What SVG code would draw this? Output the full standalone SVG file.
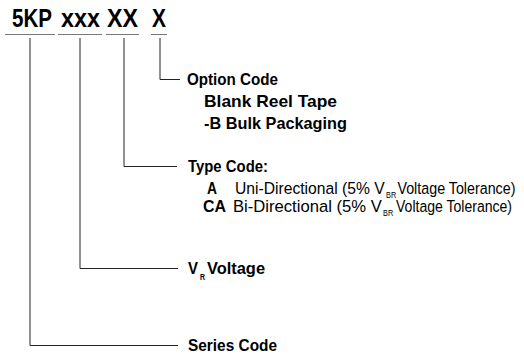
<svg xmlns="http://www.w3.org/2000/svg" width="524" height="356" viewBox="0 0 524 356">
<style>
.t{font-family:"Liberation Sans",Arial,sans-serif;font-weight:bold;fill:#000}
.n{font-weight:normal}
.h{font-size:25px}
.l{font-size:17px}
.s{font-size:9px}
.ul{stroke:#777;stroke-width:1.2;fill:none}
.c{stroke:#222;stroke-width:1;fill:none}
</style>
<rect width="524" height="356" fill="#fff"/>
<g id="title">
<text class="t h" x="12" y="27" textLength="40" lengthAdjust="spacingAndGlyphs">5KP</text>
<text class="t h" x="61" y="27" textLength="39" lengthAdjust="spacingAndGlyphs">xxx</text>
<text class="t h" x="107" y="27" textLength="31" lengthAdjust="spacingAndGlyphs">XX</text>
<text class="t h" x="152" y="27" textLength="14" lengthAdjust="spacingAndGlyphs">X</text>
<path class="ul" d="M5 34.5H55M58 34.5H102M106 34.5H139M151 34.5H167"/>
</g>
<g id="connectors">
<path class="c" d="M160 38V79.5H180"/>
<path class="c" d="M124 38V166.5H177"/>
<path class="c" d="M80 38V268.5H178"/>
<path class="c" d="M30 38V345.5H178"/>
</g>
<g id="option-code">
<text class="t l" x="187" y="85" textLength="91" lengthAdjust="spacingAndGlyphs">Option Code</text>
<text class="t l" x="204" y="107" textLength="133" lengthAdjust="spacingAndGlyphs">Blank Reel Tape</text>
<text class="t l" x="204" y="129" textLength="143" lengthAdjust="spacingAndGlyphs">-B Bulk Packaging</text>
</g>
<g id="type-code">
<text class="t l" x="188" y="172" textLength="80" lengthAdjust="spacingAndGlyphs">Type Code:</text>
<text class="t l" x="207" y="194" textLength="10" lengthAdjust="spacingAndGlyphs">A</text>
<text class="t l" x="203" y="212" textLength="23" lengthAdjust="spacingAndGlyphs">CA</text>
<g transform="scale(0.85,1)">
<text class="t l n" x="276.5" y="194" textLength="176" lengthAdjust="spacingAndGlyphs">Uni-Directional (5% V</text>
<text class="t s n" x="454.2" y="198.5" textLength="12" lengthAdjust="spacingAndGlyphs">BR</text>
<text class="t l n" x="467.6" y="194" textLength="138.8" lengthAdjust="spacingAndGlyphs">Voltage Tolerance)</text>
<text class="t l n" x="274.1" y="212" textLength="175" lengthAdjust="spacingAndGlyphs">Bi-Directional (5% V</text>
<text class="t s n" x="450.6" y="216.5" textLength="12" lengthAdjust="spacingAndGlyphs">BR</text>
<text class="t l n" x="465.9" y="212" textLength="136.5" lengthAdjust="spacingAndGlyphs">Voltage Tolerance)</text>
</g>
</g>
<g id="vr-voltage">
<text class="t l" x="188" y="274" textLength="10" lengthAdjust="spacingAndGlyphs">V</text>
<text class="t s" x="200" y="279.5" textLength="5" lengthAdjust="spacingAndGlyphs">R</text>
<text class="t l" x="207" y="274" textLength="58" lengthAdjust="spacingAndGlyphs">Voltage</text>
</g>
<g id="series-code">
<text class="t l" x="188" y="351" textLength="89" lengthAdjust="spacingAndGlyphs">Series Code</text>
</g>
</svg>
